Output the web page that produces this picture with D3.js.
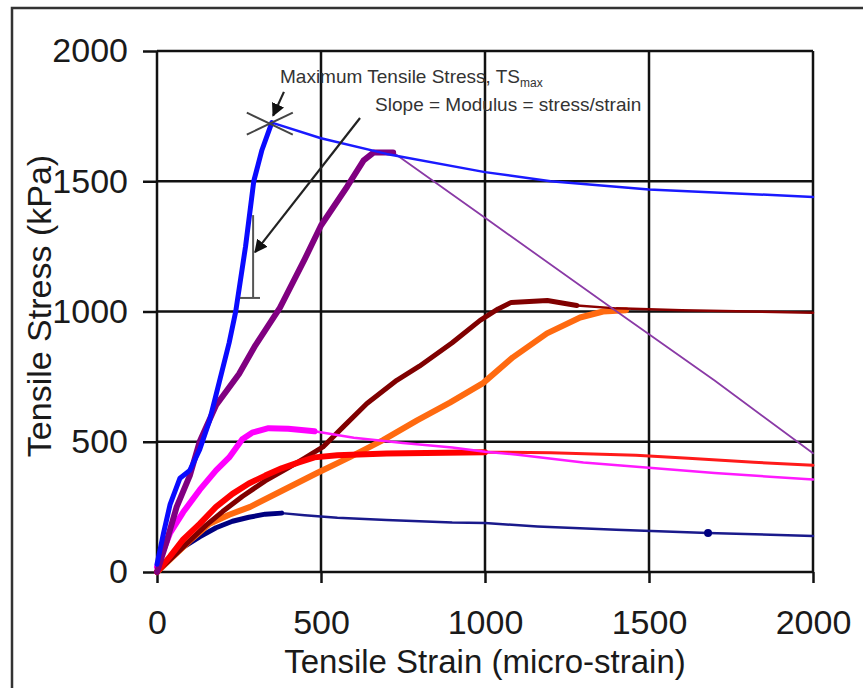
<!DOCTYPE html>
<html>
<head>
<meta charset="utf-8">
<script src="https://cdn.jsdelivr.net/npm/d3@7"></script>
<style>
  body { margin: 0; background: #fff; }
  svg { display: block; font-family: "Liberation Sans", Arial, sans-serif; }
</style>
</head>
<body>
<svg id="chart" width="863" height="688"></svg>
<script>
// strain (micro-strain), stress (kPa)
// each mix: thick loading part, then thin post-peak part
const blueRise = [[0,30],[20,150],[40,260],[70,360],[100,390],[130,470],[160,580],[190,730],[220,880],[240,1000],[270,1250],[295,1500],[320,1620],[350,1725]];
const blueTail = [[350,1725],[500,1665],[700,1605],[1000,1535],[1200,1500],[1500,1468],[2000,1440]];

const purpleRise = [[0,0],[30,120],[60,250],[100,370],[130,500],[180,640],[250,760],[300,870],[375,1015],[450,1200],[500,1330],[580,1480],[630,1580],[660,1610],[720,1610]];
const purpleTail = [[720,1610],[1000,1360],[1381,1018],[1700,735],[2000,456]];

const magentaRise = [[0,20],[40,150],[80,230],[130,315],[180,390],[220,440],[260,510],[290,535],[340,552],[400,550],[480,540]];
const magentaTail = [[480,540],[600,515],[750,495],[900,478],[1000,462],[1100,450],[1300,420],[1500,400],[1700,380],[2000,355]];

const redRise = [[0,0],[40,60],[80,125],[130,185],[180,250],[230,300],[280,340],[330,370],[380,398],[430,420],[480,440],[550,448],[700,455],[1000,460]];
const redTail = [[1000,460],[1200,458],[1460,448],[1620,437],[1820,421],[2000,410]];

const maroonRise = [[0,0],[50,60],[100,120],[150,180],[200,232],[260,290],[330,350],[400,400],[450,437],[506,480],[570,560],[640,647],[731,736],[800,790],[900,880],[985,966],[1040,1010],[1080,1035],[1190,1042],[1280,1023]];
const maroonTail = [[1280,1023],[1400,1012],[1600,1005],[2000,995]];

const orangeRise = [[0,0],[50,60],[100,120],[160,185],[220,220],[284,250],[384,314],[488,380],[588,441],[689,506],[793,582],[893,650],[994,725],[1085,824],[1189,916],[1290,977],[1360,1000],[1430,1005]];

const navyRise = [[0,0],[40,50],[80,95],[130,135],[180,170],[230,195],[280,210],[330,222],[380,226]];
const navyTail = [[380,226],[450,218],[550,208],[700,200],[900,190],[1000,188],[1160,175],[1400,162],[1680,150],[2000,138]];
const navyDots = [[1680,150]];

const xTicks = [0, 500, 1000, 1500, 2000];
const yTicks = [0, 500, 1000, 1500, 2000];

// annotation anchor points, in data units
const peakMark = [350, 1725];
const peakArrow = [[387,1843],[354,1752]];
const slopeArrow = [[619,1743],[299,1228]];
const slopeBar = [[293,1370],[293,1052]];
const slopeFoot = [[253,1052],[314,1052]];

const svg = d3.select("#chart");

// outer frame
svg.append("rect")
  .attr("x", 12).attr("y", 8)
  .attr("width", 900).attr("height", 700)
  .attr("fill", "none").attr("stroke", "#333").attr("stroke-width", 2.5);

const x = d3.scaleLinear().domain([0, 2000]).range([157, 813]);
const y = d3.scaleLinear().domain([0, 2000]).range([572, 51]);

// grid
const grid = svg.append("g").attr("stroke", "#111").attr("stroke-width", 2.5);
grid.selectAll(".gx").data(xTicks).join("line")
  .attr("x1", d => x(d)).attr("x2", d => x(d))
  .attr("y1", y(0)).attr("y2", y(2000));
grid.selectAll(".gy").data(yTicks).join("line")
  .attr("x1", x(0)).attr("x2", x(2000))
  .attr("y1", d => y(d)).attr("y2", d => y(d));

// axes
const xAxis = svg.append("g")
  .attr("transform", `translate(0,${y(0)})`)
  .call(d3.axisBottom(x).tickValues(xTicks).tickFormat(d3.format("d"))
    .tickSize(11).tickSizeOuter(0).tickPadding(27));
const yAxis = svg.append("g")
  .attr("transform", `translate(${x(0)},0)`)
  .call(d3.axisLeft(y).tickValues(yTicks).tickFormat(d3.format("d"))
    .tickSize(14).tickSizeOuter(0).tickPadding(15));

[xAxis, yAxis].forEach(a => {
  a.select(".domain").remove();
  a.selectAll(".tick line").attr("stroke", "#111").attr("stroke-width", 2.5);
  a.selectAll(".tick text")
    .attr("fill", "#1a1a1a")
    .style("font-size", "34px")
    .style("font-family", "'Liberation Sans', Arial, sans-serif");
});

svg.append("text")
  .attr("x", 485).attr("y", 673)
  .attr("text-anchor", "middle")
  .attr("fill", "#1a1a1a")
  .style("font-size", "33px")
  .text("Tensile Strain (micro-strain)");

svg.append("text")
  .attr("transform", "translate(51,306) rotate(-90)")
  .attr("text-anchor", "middle")
  .attr("fill", "#1a1a1a")
  .style("font-size", "34px")
  .text("Tensile Stress (kPa)");

// curves
const line = d3.line().x(d => x(d[0])).y(d => y(d[1]));

const curves = [
  { pts: navyTail, color: "#1a1a8c", w: 2.5 },
  { pts: navyRise, color: "#000080", w: 5 },
  { pts: orangeRise, color: "#ff6a10", w: 6 },
  { pts: maroonTail, color: "#8b0000", w: 2.5 },
  { pts: maroonRise, color: "#800000", w: 5 },
  { pts: redTail, color: "#ff1a1a", w: 3 },
  { pts: redRise, color: "#ff0000", w: 6 },
  { pts: magentaTail, color: "#ff1aff", w: 2.5 },
  { pts: magentaRise, color: "#ff00ff", w: 6 },
  { pts: purpleTail, color: "#8a3aa6", w: 1.8 },
  { pts: purpleRise, color: "#800080", w: 6 },
  { pts: blueTail, color: "#1a1aff", w: 2.5 },
  { pts: blueRise, color: "#0a0aff", w: 5 }
];

svg.append("g").attr("fill", "none")
  .attr("stroke-linejoin", "round").attr("stroke-linecap", "round")
  .selectAll("path").data(curves).join("path")
  .attr("d", d => line(d.pts))
  .attr("stroke", d => d.color)
  .attr("stroke-width", d => d.w);

svg.append("g").selectAll("circle").data(navyDots).join("circle")
  .attr("cx", d => x(d[0])).attr("cy", d => y(d[1]))
  .attr("r", 4).attr("fill", "#000080");

// annotations
svg.append("defs").append("marker")
  .attr("id", "head")
  .attr("viewBox", "0 0 10 10")
  .attr("refX", 9).attr("refY", 5)
  .attr("markerWidth", 6).attr("markerHeight", 6)
  .attr("markerUnits", "strokeWidth")
  .attr("orient", "auto")
  .append("path").attr("d", "M0,0 L10,5 L0,10 z").attr("fill", "#111");

const ann = svg.append("g").attr("stroke", "#222").attr("fill", "none");

ann.append("line")
  .attr("x1", x(peakMark[0]) - 25).attr("y1", y(peakMark[1]) - 10)
  .attr("x2", x(peakMark[0]) + 21).attr("y2", y(peakMark[1]) + 12)
  .attr("stroke", "#444").attr("stroke-width", 2);
ann.append("line")
  .attr("x1", x(peakMark[0]) - 25).attr("y1", y(peakMark[1]) + 12)
  .attr("x2", x(peakMark[0]) + 21).attr("y2", y(peakMark[1]) - 10)
  .attr("stroke", "#444").attr("stroke-width", 2);

[peakArrow, slopeArrow].forEach(seg => {
  ann.append("line")
    .attr("x1", x(seg[0][0])).attr("y1", y(seg[0][1]))
    .attr("x2", x(seg[1][0])).attr("y2", y(seg[1][1]))
    .attr("stroke-width", 2.2)
    .attr("marker-end", "url(#head)");
});

[slopeBar, slopeFoot].forEach(seg => {
  ann.append("line")
    .attr("x1", x(seg[0][0])).attr("y1", y(seg[0][1]))
    .attr("x2", x(seg[1][0])).attr("y2", y(seg[1][1]))
    .attr("stroke", "#555").attr("stroke-width", 2);
});

const t1 = svg.append("text")
  .attr("x", x(375)).attr("y", y(1877))
  .attr("fill", "#333")
  .style("font-size", "19px");
t1.append("tspan").text("Maximum Tensile Stress, TS");
t1.append("tspan").attr("dy", 4).style("font-size", "12px").text("max");

svg.append("text")
  .attr("x", x(665)).attr("y", y(1770))
  .attr("fill", "#333")
  .style("font-size", "19px")
  .text("Slope = Modulus = stress/strain");
</script>
</body>
</html>
